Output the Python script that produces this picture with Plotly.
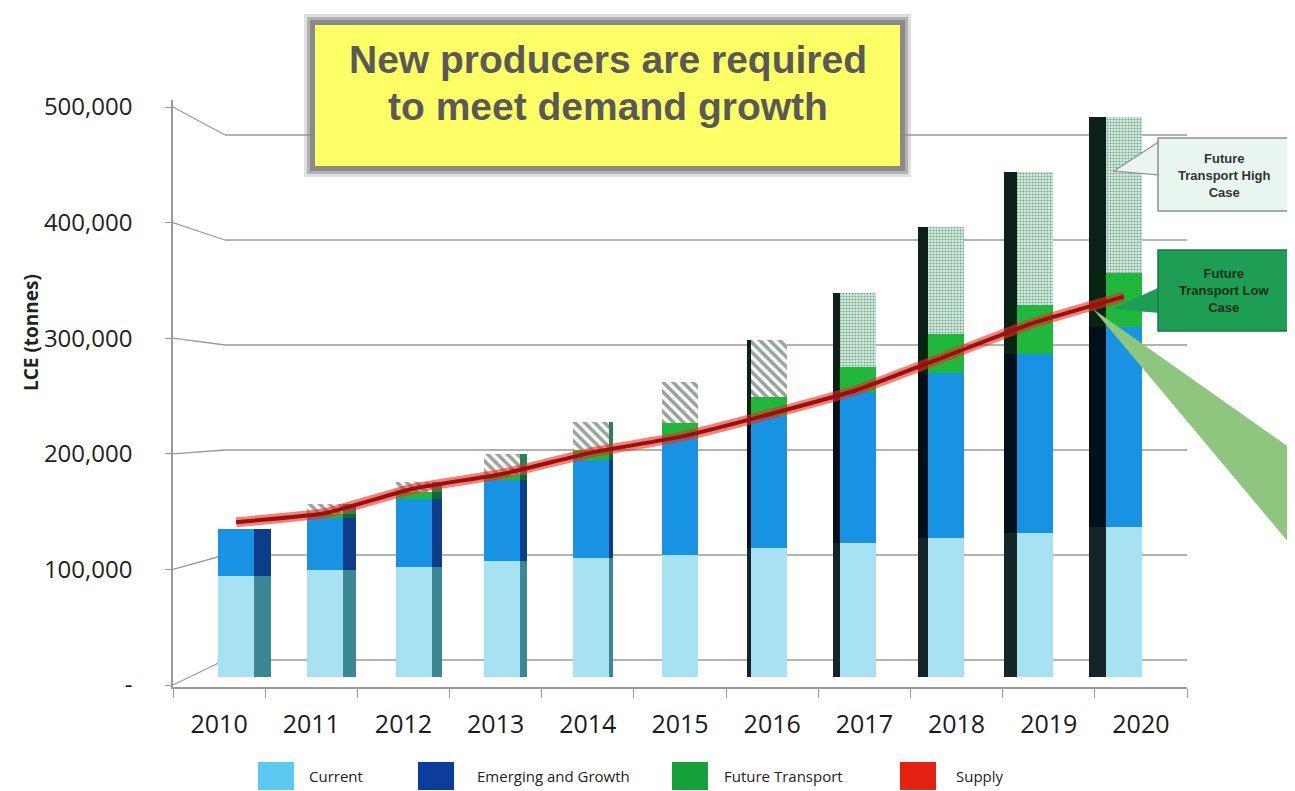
import plotly.graph_objects as go

# ---------------- data (tonnes LCE) ----------------
years = [2010, 2011, 2012, 2013, 2014, 2015, 2016, 2017, 2018, 2019, 2020]
current = [90000, 95000, 98000, 103000, 106000, 109000, 115000, 119000, 124000, 128000, 134000]
emerging = [42000, 47000, 61000, 73000, 87000, 105000, 118000, 135000, 147000, 160000, 178000]
future_low = [0, 3000, 6000, 4000, 9000, 12000, 17000, 22000, 35000, 44000, 48000]
future_high = [0, 9000, 9000, 19000, 25000, 37000, 50000, 66000, 95000, 118000, 139000]
supply = [138000, 146000, 168000, 181000, 200000, 214000, 234000, 256000, 286000, 316000, 339000]

y_tick_vals = [0, 100000, 200000, 300000, 400000, 500000]
y_tick_text = ["-", "100,000", "200,000", "300,000", "400,000", "500,000"]
legend_names = ["Current", "Emerging and Growth", "Future Transport", "Supply"]

# ---------------- geometry / style ----------------
W, H = 1295, 791
PAGE = 8                                       # browser body margin
PL, PR, PT, PB = 173, 1187, 100, 687          # plot area in screen pixels


def yrange(zero_px, px_per_k):
    return [-(PB - zero_px) / px_per_k * 1000, (zero_px - PT) / px_per_k * 1000]


bar_range = yrange(677, 1.122)      # bars' plane
front_range = yrange(685, 1.156)    # front axis labels
BACK_ZERO, BACK_SCALE = 660, 1.05   # back wall gridlines


def px(xp):
    return (xp - PL) / (PR - PL)


def py(yp):
    return (PB - yp) / (PB - PT)


face_w = 0.39
face_x = [y + 0.037 * (2015 - y) for y in years]
side_w = [0.036 * abs(y - 2015) for y in years]
side_x = [fx + (face_w / 2 + sw / 2) * (1 if y < 2015 else -1)
          for fx, sw, y in zip(face_x, side_w, years)]

base_em = current
base_low = [a + b for a, b in zip(current, emerging)]
base_high = [a + b for a, b in zip(base_low, future_low)]

fig = go.Figure()


def side_colors(early, late):
    return [early if y < 2015 else late for y in years]


# side faces (pseudo 3D)
side_specs = [
    (current, [0] * len(years), side_colors("#3b8794", "#142429")),
    (emerging, base_em, side_colors("#0b3d8a", "#03101c")),
    (future_low, base_low, side_colors("#0d6b2b", "#06240f")),
    (future_high, base_high, side_colors("#2e7f57", "#0b2019")),
]
for vals, base, cols in side_specs:
    fig.add_trace(go.Bar(x=side_x, y=vals, base=base, width=side_w,
                         marker=dict(color=cols, line=dict(width=0)),
                         showlegend=False, hoverinfo="skip"))

# front faces
fig.add_trace(go.Bar(x=face_x, y=current, base=[0] * len(years), width=face_w,
                     marker=dict(color="#a6e2f2", line=dict(width=0)),
                     name=legend_names[0], showlegend=False))
fig.add_trace(go.Bar(x=face_x, y=emerging, base=base_em, width=face_w,
                     marker=dict(color="#1893e4", line=dict(width=0)),
                     name=legend_names[1], showlegend=False))
fig.add_trace(go.Bar(x=face_x, y=future_low, base=base_low, width=face_w,
                     marker=dict(color="#1fb83c", line=dict(width=0)),
                     name=legend_names[2], showlegend=False))
hatch_shape = ["\\" if y <= 2016 else "." for y in years]
hatch_fg = ["#129a4c" if y <= 2016 else "#a2e2be" for y in years]
hatch_bg = ["#f4fcf6" if y <= 2016 else "#cdf3df" for y in years]
hatch_size = [7 if y <= 2016 else 3 for y in years]
hatch_sol = [0.5 if y <= 2016 else 0.4 for y in years]
fig.add_trace(go.Bar(x=face_x, y=future_high, base=base_high, width=face_w,
                     marker=dict(color=hatch_bg, line=dict(width=0),
                                 pattern=dict(shape=hatch_shape, fgcolor=hatch_fg,
                                              bgcolor=hatch_bg, size=hatch_size, solidity=hatch_sol)),
                     name="Future Transport High Case", showlegend=False))

# supply line with glow
fig.add_trace(go.Scatter(x=face_x, y=supply, mode="lines",
                         line=dict(color="rgba(235,45,25,0.6)", width=10, shape="spline", smoothing=0.4),
                         showlegend=False, hoverinfo="skip"))
fig.add_trace(go.Scatter(x=face_x, y=supply, mode="lines",
                         line=dict(color="#9a1010", width=4, shape="spline", smoothing=0.4),
                         name=legend_names[3], showlegend=False))

# invisible helper so the front value axis is drawn
fig.add_trace(go.Scatter(x=[years[0]] * len(y_tick_vals), y=y_tick_vals, yaxis="y2",
                         mode="markers", marker=dict(opacity=0), showlegend=False, hoverinfo="skip"))

shapes = []
grey = "#9a9a9a"
# back wall gridlines + slanted connectors to the front axis
back_left = 225
for v in y_tick_vals:
    yb = BACK_ZERO - v / 1000 * BACK_SCALE
    yf = 685 - v / 1000 * 1.156
    shapes.append(dict(type="line", xref="paper", yref="paper", x0=px(back_left), x1=px(PR),
                       y0=py(yb), y1=py(yb), line=dict(color=grey, width=1.3), layer="below"))
    shapes.append(dict(type="line", xref="paper", yref="paper", x0=px(PL), x1=px(back_left),
                       y0=py(yf), y1=py(yb), line=dict(color=grey, width=1.3), layer="below"))

# title box with soft shadow
for d, col in [(11, "rgba(150,150,150,0.30)"), (8, "rgba(140,140,140,0.55)"), (5, "rgba(130,130,130,0.85)")]:
    shapes.append(dict(type="rect", xref="paper", yref="paper", x0=px(315 - d), x1=px(900 + d),
                       y0=py(166 + d), y1=py(25 - d), fillcolor=col, line=dict(width=0)))
shapes.append(dict(type="rect", xref="paper", yref="paper", x0=px(315), x1=px(900),
                   y0=py(166), y1=py(25), fillcolor="#ffff66", line=dict(width=0)))

# big light green wedge
shapes.append(dict(type="path", xref="paper", yref="paper",
                   path="M {},{} L {},{} L {},{} Z".format(px(1093), py(309), px(1310), py(462), px(1310), py(568)),
                   fillcolor="#8ec67f", line=dict(width=0)))

# callout: high case
shapes.append(dict(type="path", xref="paper", yref="paper",
                   path="M {},{} L {},{} L {},{} Z".format(px(1160), py(141), px(1114), py(171), px(1160), py(175)),
                   fillcolor="#e9f6f0", line=dict(color="#8f8f8f", width=1.2)))
shapes.append(dict(type="rect", xref="paper", yref="paper", x0=px(1158), x1=px(1310),
                   y0=py(211), y1=py(138), fillcolor="#e9f6f0", line=dict(color="#8f8f8f", width=1.5)))
# callout: low case
shapes.append(dict(type="path", xref="paper", yref="paper",
                   path="M {},{} L {},{} L {},{} Z".format(px(1160), py(287), px(1112), py(309), px(1160), py(313)),
                   fillcolor="#1e9e55", line=dict(width=0)))
shapes.append(dict(type="rect", xref="paper", yref="paper", x0=px(1158), x1=px(1310),
                   y0=py(331), y1=py(250), fillcolor="#1e9e55", line=dict(color="#167a40", width=1.5)))

# legend swatches
legend_x = [258, 418, 672, 900]
legend_tx = [307, 475, 722, 954]
legend_cols = ["#5ccaf0", "#0b3d9e", "#15a03a", "#e32212"]
for lx, c in zip(legend_x, legend_cols):
    shapes.append(dict(type="rect", xref="paper", yref="paper", x0=px(lx), x1=px(lx + 36),
                       y0=py(790), y1=py(762), fillcolor=c, line=dict(width=0)))

annotations = []
for tx, name in zip(legend_tx, legend_names):
    annotations.append(dict(x=px(tx), y=py(776), xref="paper", yref="paper", text=name,
                            showarrow=False, xanchor="left", yanchor="middle",
                            font=dict(family="Open Sans", size=15, color="#222")))

annotations.append(dict(x=px(608), y=py(60), xref="paper", yref="paper",
                        text="<b>New producers are required</b>", showarrow=False,
                        xanchor="center", yanchor="middle",
                        font=dict(family="Liberation Sans, Arial", size=39, color="#595959")))
annotations.append(dict(x=px(608), y=py(106), xref="paper", yref="paper",
                        text="<b>to meet demand growth</b>", showarrow=False,
                        xanchor="center", yanchor="middle",
                        font=dict(family="Liberation Sans, Arial", size=39, color="#595959")))
annotations.append(dict(x=px(31), y=py(333), xref="paper", yref="paper",
                        text="<b>LCE (tonnes)</b>", showarrow=False, textangle=-90,
                        xanchor="center", yanchor="middle",
                        font=dict(family="Open Sans", size=19, color="#222")))
annotations.append(dict(x=px(1224), y=py(175), xref="paper", yref="paper",
                        text="<b>Future<br>Transport High<br>Case</b>", showarrow=False,
                        xanchor="center", yanchor="middle",
                        font=dict(family="Liberation Sans", size=13, color="#333")))
annotations.append(dict(x=px(1224), y=py(290), xref="paper", yref="paper",
                        text="<b>Future<br>Transport Low<br>Case</b>", showarrow=False,
                        xanchor="center", yanchor="middle",
                        font=dict(family="Liberation Sans", size=13, color="#0b3016")))

fig.update_layout(
    width=W, height=H,
    margin=dict(l=PL - PAGE, r=W - (PR - PAGE), t=PT - PAGE, b=H - (PB - PAGE)),
    barmode="overlay",
    bargap=0,
    plot_bgcolor="white", paper_bgcolor="white",
    showlegend=False,
    shapes=shapes,
    annotations=annotations,
    xaxis=dict(range=[2009.5, 2020.5], tickmode="array", tickvals=years,
               ticktext=[str(y) for y in years], ticks="", showgrid=False, zeroline=False,
               showline=True, linecolor="#999", linewidth=1.5,
               tickfont=dict(family="Open Sans", size=25, color="#1a1a1a"), ticklabelstandoff=14,
               minor=dict(tickmode="array", tickvals=[y - 0.5 for y in years] + [years[-1] + 0.5],
                          ticks="outside", ticklen=9, tickcolor="#999", showgrid=False)),
    yaxis=dict(range=bar_range, visible=False, showgrid=False, zeroline=False),
    yaxis2=dict(range=front_range, overlaying="y", side="left", anchor="x",
                tickmode="array", tickvals=y_tick_vals, ticktext=y_tick_text,
                ticks="outside", ticklen=6, tickcolor="#999", showline=True, linecolor="#999",
                linewidth=1.5, showgrid=False, zeroline=False, ticklabelstandoff=28,
                tickfont=dict(family="Open Sans", size=24, color="#222")),
)

fig.write_html("out.html")
